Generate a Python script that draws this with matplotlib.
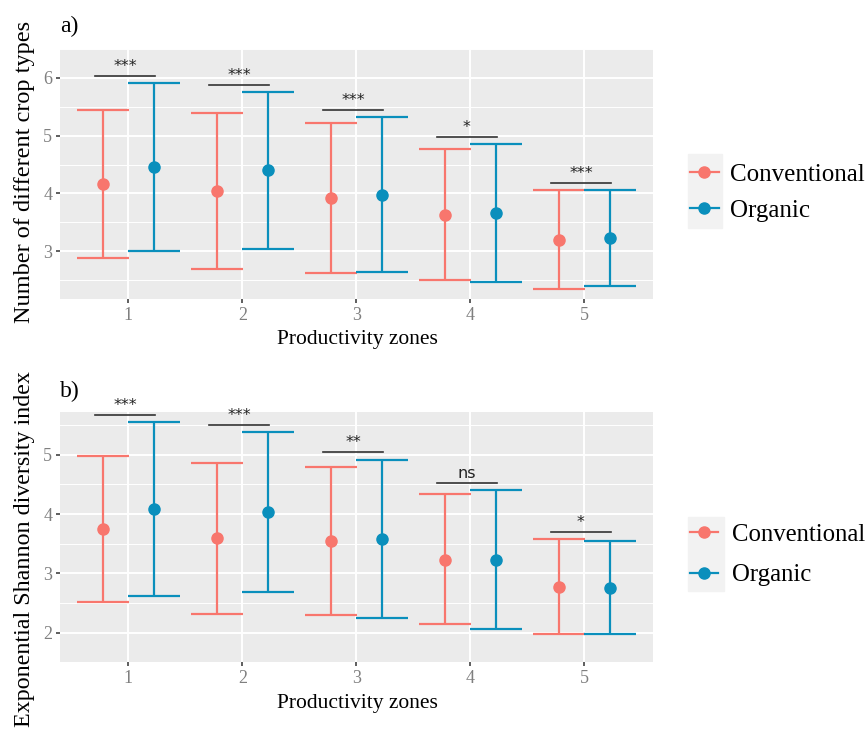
import matplotlib
matplotlib.use("Agg")
import matplotlib.pyplot as plt
from matplotlib.lines import Line2D
from matplotlib.patches import Rectangle
import numpy as np

plt.rcParams['font.family'] = ['Liberation Serif', 'DejaVu Serif']

zones = [1, 2, 3, 4, 5]
groups = ["Conventional", "Organic"]

# a) number of different crop types (mean, lower, upper)
crop_conv_mean = [4.17, 4.04, 3.92, 3.63, 3.20]
crop_conv_low = [2.88, 2.69, 2.63, 2.50, 2.34]
crop_conv_high = [5.45, 5.40, 5.22, 4.77, 4.06]
crop_org_mean = [4.46, 4.40, 3.98, 3.66, 3.23]
crop_org_low = [3.01, 3.04, 2.635, 2.47, 2.40]
crop_org_high = [5.92, 5.75, 5.33, 4.86, 4.06]
crop_sig = ["***", "***", "***", "*", "***"]

# b) exponential Shannon diversity index
shan_conv_mean = [3.75, 3.59, 3.54, 3.23, 2.77]
shan_conv_low = [2.52, 2.31, 2.29, 2.14, 1.97]
shan_conv_high = [4.98, 4.87, 4.80, 4.34, 3.58]
shan_org_mean = [4.08, 4.03, 3.58, 3.22, 2.76]
shan_org_low = [2.61, 2.69, 2.24, 2.06, 1.98]
shan_org_high = [5.55, 5.38, 4.92, 4.40, 3.54]
shan_sig = ["***", "***", "**", "ns", "*"]

COL_CONV = "#F8766D"
COL_ORG = "#0A8FBC"


def panel(ax, series, sig, ylim, yticks, title, ylabel, title_pad, ylab_size, ylab_y):
    x = np.array(zones, dtype=float)
    dodge = 0.225
    for (mean, low, high), off, col in zip(series, [-dodge, dodge], [COL_CONV, COL_ORG]):
        mean = np.array(mean)
        yerr = [mean - np.array(low), np.array(high) - mean]
        ax.errorbar(x + off, mean, yerr=yerr, fmt="o", color=col, ms=8,
                    elinewidth=1.6, capsize=18.4, capthick=1.6, zorder=3)
    tops = np.maximum(series[0][2], series[1][2])
    for xi, top, lab in zip(x, tops, sig):
        yb = top + 0.12
        ax.plot([xi - 0.29, xi + 0.23], [yb, yb], color="#333333", lw=1.2, zorder=4)
        ax.annotate(lab, (xi - 0.03, yb), xytext=(0, 1.5), textcoords="offset points",
                    ha="center", va="bottom", fontsize=11.5, family="DejaVu Sans",
                    color="#222222")
    ax.set_xlim(0.4, 5.6)
    ax.set_ylim(*ylim)
    ax.set_xticks(zones)
    ax.set_yticks(yticks)
    ax.set_yticks([t + 0.5 for t in yticks[:-1]] + [yticks[0] - 0.5, yticks[-1] + 0.5], minor=True)
    ax.set_facecolor("#EBEBEB")
    ax.grid(True, which="major", color="white", lw=1.4)
    ax.grid(True, which="minor", axis="y", color="white", lw=0.7)
    ax.set_axisbelow(True)
    for s in ax.spines.values():
        s.set_visible(False)
    ax.tick_params(which="major", length=3, width=1.1, color="#333333",
                   labelcolor="#7F7F7F", labelsize=13, pad=2.5)
    ax.tick_params(which="minor", length=0)
    ax.set_xlabel("Productivity zones", fontsize=15.5)
    ax.xaxis.set_label_coords(0.502, -0.125)
    ax.set_ylabel(ylabel, fontsize=ylab_size)
    ax.yaxis.set_label_coords(-0.042, ylab_y)
    ax.set_title(title, loc="left", fontsize=17, pad=title_pad)


fig = plt.figure(figsize=(8.68, 7.33), dpi=100)
ax1 = fig.add_axes([0.0691, 0.592, 0.683, 0.341])
ax2 = fig.add_axes([0.0691, 0.0965, 0.683, 0.342])

panel(ax1, [(crop_conv_mean, crop_conv_low, crop_conv_high),
            (crop_org_mean, crop_org_low, crop_org_high)],
      crop_sig, (2.17, 6.10), [3, 4, 5, 6], "a)", "Number of different crop types",
      12.5, 17.5, 0.51)
panel(ax2, [(shan_conv_mean, shan_conv_low, shan_conv_high),
            (shan_org_mean, shan_org_low, shan_org_high)],
      shan_sig, (1.80, 5.73), [2, 3, 4, 5], "b)", "Exponential Shannon diversity index",
      10.5, 17.3, 0.45)

# legends with grey key background as in ggplot
handles = [Line2D([], [], color=c, marker="o", ms=8, lw=1.6) for c in [COL_CONV, COL_ORG]]
fig.patches.append(Rectangle((688 / 868, 1 - 228 / 733), 34 / 868, 74 / 733,
                             transform=fig.transFigure, color="#F2F2F2", zorder=0))
fig.patches.append(Rectangle((688 / 868, 1 - 591 / 733), 36 / 868, 74 / 733,
                             transform=fig.transFigure, color="#F2F2F2", zorder=0))
fig.legend(handles, groups, loc="center left", bbox_to_anchor=(0.795, 0.737),
           frameon=False, fontsize=18, handlelength=1.15, handletextpad=0.45,
           labelspacing=0.55, borderpad=0, borderaxespad=0)
fig.legend(handles, groups, loc="center left", bbox_to_anchor=(0.795, 0.243),
           frameon=False, fontsize=17.8, handlelength=1.15, handletextpad=0.55,
           labelspacing=0.75, borderpad=0, borderaxespad=0)

fig.savefig("out.png", dpi=100)
